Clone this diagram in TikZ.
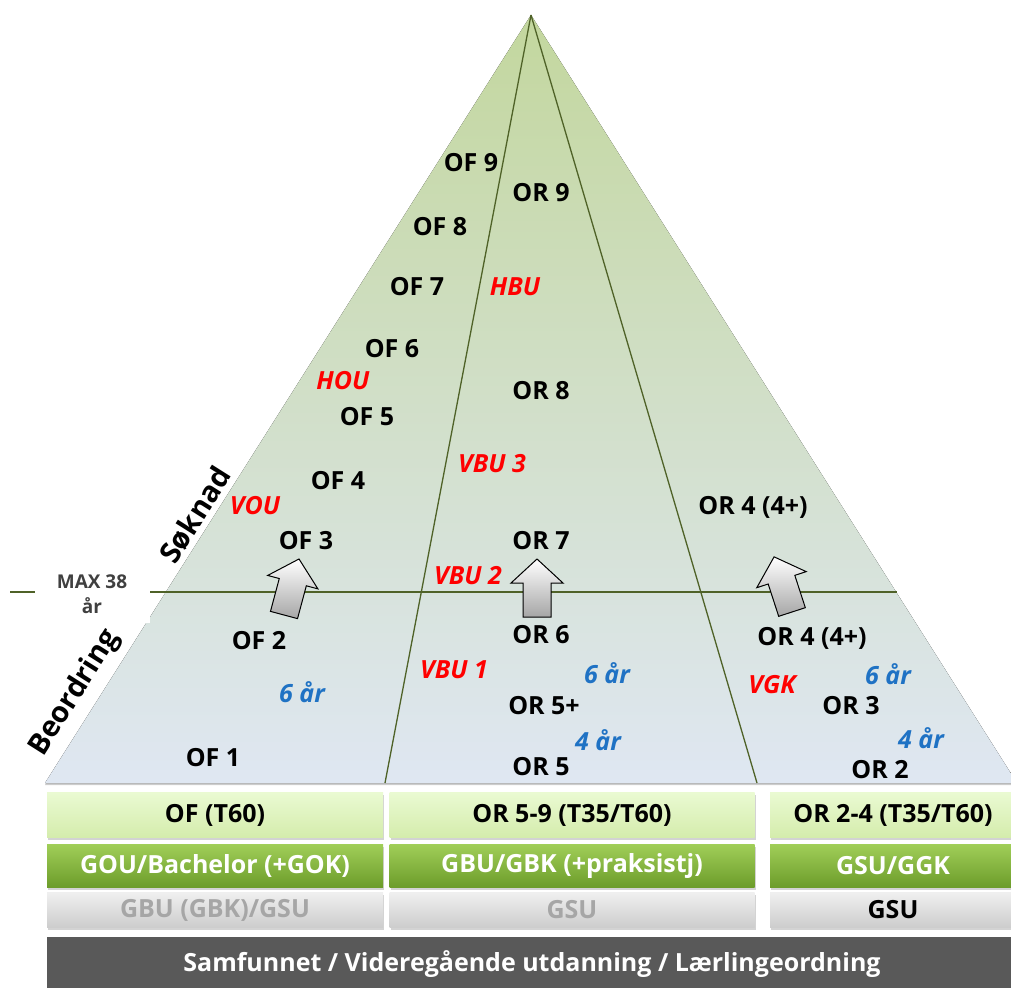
\documentclass[tikz,border=0pt]{standalone}
\usepackage{fontspec}
\setmainfont{Open Sans}
\usetikzlibrary{positioning, shadows}
\definecolor{pyrgreen}{HTML}{C3D79E}
\definecolor{pyrblue}{HTML}{DFE7F2}
\definecolor{pyrline}{HTML}{4F6228}
\definecolor{edured}{HTML}{FF0000}
\definecolor{yrsblue}{HTML}{1F72C4}
\definecolor{rowlighttop}{HTML}{EAFAD2}
\definecolor{rowlightbot}{HTML}{D4ECAC}
\definecolor{rowgreentop}{HTML}{A0CE58}
\definecolor{rowgreenbot}{HTML}{6C9C2A}
\definecolor{rowgraytop}{HTML}{EFEFEF}
\definecolor{rowgraybot}{HTML}{CDCDCD}
\definecolor{rowdark}{HTML}{595959}

\tikzset{
  lvl/.style={font=\fontsize{25}{28}\selectfont\bfseries},
  edu/.style={font=\fontsize{25}{28}\selectfont\bfseries\itshape, text=edured},
  yrs/.style={font=\fontsize{25}{28}\selectfont\bfseries\itshape, text=yrsblue},
  side/.style={font=\fontsize{29}{32}\selectfont\bfseries, rotate=57.7},
  rowbox/.style={inner sep=0pt, font=\fontsize{25}{28}\selectfont\bfseries,
    drop shadow={shadow xshift=1pt, shadow yshift=-2pt, opacity=.35}},
  titlerow/.style={rowbox, minimum height=45, top color=rowlighttop, bottom color=rowlightbot},
  eduorow/.style={rowbox, minimum height=43, top color=rowgreentop, bottom color=rowgreenbot, text=white},
  baserow/.style={rowbox, minimum height=35, top color=rowgraytop, bottom color=rowgraybot, text=black!35},
  uparr/.pic={
    \draw[line width=1pt, top color=white, bottom color=black!35]
      (-14,0) -- (-14,-34) -- (-26,-34) -- (0,-58) -- (26,-34) -- (14,-34) -- (14,0) -- cycle;
  }
}

\begin{document}
\begin{tikzpicture}[x=1pt, y=-1pt]
    \useasboundingbox (0,0) rectangle (1011,987);
    \clip (0,0) rectangle (1011,987);

    % Pyramid
    \coordinate (apex) at (531,15);
    \coordinate (bl) at (45,783);
    \coordinate (br) at (1017,783);
    \coordinate (d1) at (385,783);
    \coordinate (d2) at (757,783);
    \coordinate (hl) at (10,592);
    \coordinate (hr) at (897,592);
    \fill[top color=pyrgreen, middle color=pyrgreen!75!pyrblue, bottom color=pyrblue,
      drop shadow={shadow xshift=0pt, shadow yshift=-2pt, opacity=.4}]
      (apex) -- (bl) -- (br) -- cycle;
    \draw[pyrline, line width=1.3pt] (apex) -- (d1);
    \draw[pyrline, line width=1.3pt] (apex) -- (d2);
    \draw[pyrline, line width=1.3pt] (hl) -- (hr);

    % Age limit
    \node[fill=white, align=center, minimum width=115, minimum height=58, inner sep=0pt,
      font=\fontsize{19}{25}\selectfont\bfseries, text=black!75] (maxage) at (92,594) {MAX 38\\år};

    % Side labels
    \node[side] (soknad) at (195,515) {Søknad};
    \node[side] (beordring) at (75,693) {Beordring};

    % Officer levels
    \node[lvl] (of9) at (471,163) {OF 9};
    \node[lvl] (of8) at (440,227) {OF 8};
    \node[lvl] (of7) at (417,287) {OF 7};
    \node[lvl] (of6) at (392,349) {OF 6};
    \node[lvl] (of5) at (367,417) {OF 5};
    \node[lvl] (of4) at (338,481) {OF 4};
    \node[lvl] (of3) at (306,541) {OF 3};
    \node[lvl] (of2) at (259,641) {OF 2};
    \node[lvl] (of1) at (213,758) {OF 1};

    % Specialist levels
    \node[lvl] (or9) at (541,193) {OR 9};
    \node[lvl] (or8) at (541,391) {OR 8};
    \node[lvl] (or7) at (541,541) {OR 7};
    \node[lvl] (or6) at (541,635) {OR 6};
    \node[lvl] (or5p) at (544,706) {OR 5+};
    \node[lvl] (or5) at (541,767) {OR 5};
    \node[lvl] (or4up) at (753,507) {OR 4 (4+)};
    \node[lvl] (or4) at (812,638) {OR 4 (4+)};
    \node[lvl] (or3) at (851,706) {OR 3};
    \node[lvl] (or2) at (880,770) {OR 2};

    % Education
    \node[edu] (hbu) at (515,287) {HBU};
    \node[edu] (hou) at (343,381) {HOU};
    \node[edu] (vbu3) at (492,464) {VBU 3};
    \node[edu] (vou) at (255,506) {VOU};
    \node[edu] (vbu2) at (468,576) {VBU 2};
    \node[edu] (vbu1) at (454,670) {VBU 1};
    \node[edu] (vgk) at (772,685) {VGK};

    % Years
    \node[yrs] (yrsof) at (302,692) {6 år};
    \node[yrs] (yrsor6) at (607,673) {6 år};
    \node[yrs] (yrsor4) at (598,740) {4 år};
    \node[yrs] (yrsgk6) at (888,674) {6 år};
    \node[yrs] (yrsgk4) at (921,738) {4 år};

    % Promotion arrows
    \pic[rotate=-15] at (284,615) {uparr};
    \pic at (537,617) {uparr};
    \pic[rotate=18] at (792,612) {uparr};

    % Bottom rows
    \node[titlerow, minimum width=336] (rowof) at (215,815) {OF (T60)};
    \node[titlerow, minimum width=365] (rowor) at (572,815) {OR 5-9 (T35/T60)};
    \node[titlerow, minimum width=246] (rowgk) at (893,815) {OR 2-4 (T35/T60)};
    \node[eduorow, minimum width=336] (eduof) at (215,866) {GOU/Bachelor (+GOK)};
    \node[eduorow, minimum width=365] (eduor) at (572,866) {GBU/GBK (+praksistj)};
    \node[eduorow, minimum width=246] (edugk) at (893,866) {GSU/GGK};
    \node[baserow, minimum width=336] (baseof) at (215,910) {GBU (GBK)/GSU};
    \node[baserow, minimum width=365] (baseor) at (572,910) {GSU};
    \node[baserow, minimum width=246, text=black] (basegk) at (893,910) {GSU};
    \node[fill=rowdark, text=white, minimum width=970, minimum height=54, inner sep=0pt,
      font=\fontsize{25}{28}\selectfont\bfseries] (society) at (532,964)
      {Samfunnet / Videregående utdanning / Lærlingeordning};
\end{tikzpicture}
\end{document}
